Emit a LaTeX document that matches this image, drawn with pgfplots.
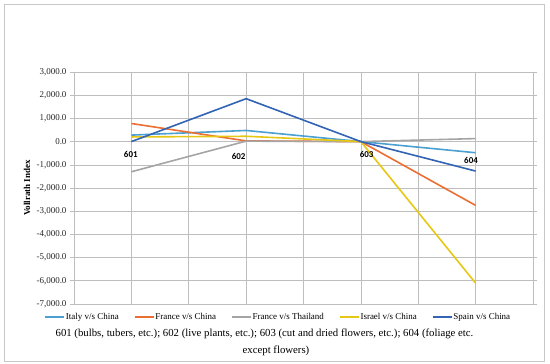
\documentclass[border=0pt]{standalone}
\usepackage{fontspec}
\setmainfont{Liberation Serif}
\newfontfamily\carlito{Carlito}
\usepackage{pgfplots}
\pgfplotsset{compat=1.18}
\definecolor{gridgray}{RGB}{190,190,190}
\definecolor{framegray}{RGB}{200,200,200}
\definecolor{cItaly}{RGB}{75,160,210}
\definecolor{cFrCh}{RGB}{235,110,50}
\definecolor{cFrTh}{RGB}{165,165,165}
\definecolor{cIsrael}{RGB}{230,200,20}
\definecolor{cSpain}{RGB}{50,100,180}
\begin{document}
\begin{tikzpicture}
\useasboundingbox (0,0) rectangle (550bp,364bp);
\draw[framegray, line width=0.9bp] (4bp,3bp) rectangle (544bp,360bp);
\begin{axis}[
  at={(74bp,60bp)}, anchor=south west,
  width=459bp, height=232bp, scale only axis,
  xmin=0, xmax=8, ymin=-7000, ymax=3000,
  xtick={0,1,...,8}, xticklabels={},
  x tick style={draw=none},
  ytick={-7000,-6000,...,3000},
  y tick style={gridgray, line width=0.6bp},
  tick align=outside, major tick length=4bp,
  grid=major, major grid style={color=gridgray, line width=0.6bp},
  axis line style={gridgray, line width=0.6bp},
  yticklabel style={font=\fontsize{9}{10}\selectfont, text=black!85},
  /pgf/number format/assume math mode=true,
  y tick label style={/pgf/number format/.cd, fixed, fixed zerofill, precision=1, 1000 sep={,}},
  ylabel={\textbf{Vollrath Index}},
  ylabel style={at={(axis description cs:-0.102,0.5)}, anchor=center, font=\fontsize{9}{10}\selectfont},
  legend columns=5,
  legend style={at={(axis description cs:0.444,-0.056)}, anchor=center, draw=none, fill=none,
    font=\fontsize{9}{10}\selectfont, nodes={inner sep=1bp},
    /tikz/every even column/.append style={column sep=14bp}},
  legend image code/.code={\draw[#1] (0bp,0bp) -- (19bp,0bp);},
  every axis plot/.append style={line width=1.6bp},
  clip=false,
]
\addplot[cItaly] coordinates {(1,280) (3,480) (5,0) (7,-480)};
\addlegendentry{Italy v/s China}
\addplot[cFrCh] coordinates {(1,780) (3,30) (5,0) (7,-2750)};
\addlegendentry{France v/s China}
\addplot[cFrTh] coordinates {(1,-1300) (3,20) (5,0) (7,130)};
\addlegendentry{France v/s Thailand}
\addplot[cIsrael] coordinates {(1,200) (3,230) (5,0) (7,-6100)};
\addlegendentry{Israel v/s China}
\addplot[cSpain] coordinates {(1,0) (3,1850) (5,0) (7,-1270)};
\addlegendentry{Spain v/s China}
\node[font=\carlito\bfseries\fontsize{9}{10}\selectfont] at (axis cs:0.99,-573) {601};
\node[font=\carlito\bfseries\fontsize{9}{10}\selectfont] at (axis cs:2.87,-660) {602};
\node[font=\carlito\bfseries\fontsize{9}{10}\selectfont] at (axis cs:5.10,-573) {603};
\node[font=\carlito\bfseries\fontsize{9}{10}\selectfont] at (axis cs:6.92,-832) {604};
\end{axis}
\node[font=\fontsize{10.8}{12}\selectfont, inner sep=0pt] at (264.5bp,30bp) {601 (bulbs, tubers, etc.); 602 (live plants, etc.); 603 (cut and dried flowers, etc.); 604 (foliage etc.};
\node[font=\fontsize{10.8}{12}\selectfont, inner sep=0pt] at (276bp,13bp) {except flowers)};
\end{tikzpicture}
\end{document}
